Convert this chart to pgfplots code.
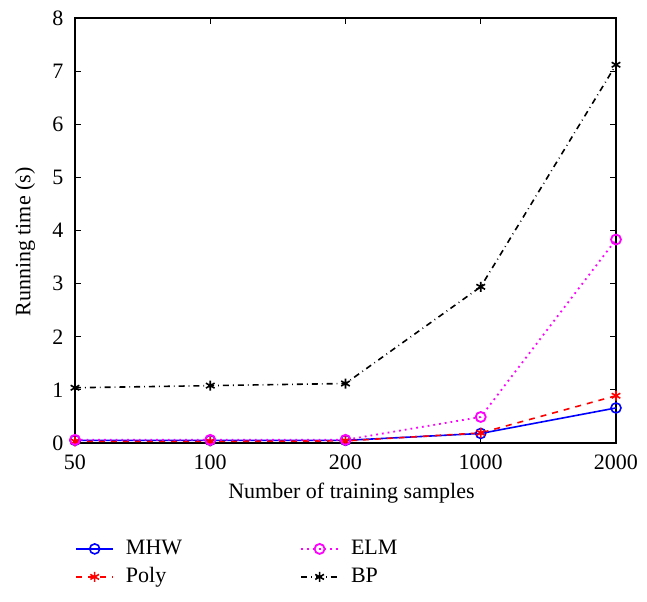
\documentclass[border=0pt]{standalone}
\usepackage{fontspec}
\setmainfont{Liberation Serif}
\usepackage{pgfplots}
\pgfplotsset{compat=1.18}
\definecolor{mag}{rgb}{1,0,1}
\definecolor{blu}{rgb}{0,0,1}
\definecolor{rd}{rgb}{1,0,0}
\begin{document}
\fontsize{11}{13}\selectfont
\begin{tikzpicture}
\begin{axis}[
  name=ax,
  scale only axis,
  width=270.5pt, height=212.5pt,
  xmin=0, xmax=4, ymin=0, ymax=8,
  xtick={0,1,2,3,4},
  xticklabels={50,100,200,1000,2000},
  ytick={0,1,...,8},
  /pgf/number format/assume math mode=true,
  tick align=inside,
  major tick length=3pt,
  axis line style={line width=0.8pt},
  every tick/.style={black, line width=0.6pt},
  xlabel={Number of training samples},
  ylabel={Running time (s)},
  tick label style={font=\fontsize{11}{13}\selectfont},
  label style={font=\fontsize{11}{13}\selectfont},
  xticklabel style={yshift=-2pt},
  yticklabel style={xshift=-2pt},
  xlabel style={at={(axis description cs:0.511,-0.119)}, anchor=center},
  ylabel style={at={(axis description cs:-0.0924,0.473)}, anchor=center},
  clip=false,
  legend columns=2,
  transpose legend,
  legend style={draw=none, fill=none, inner sep=0pt,
    at={(axis description cs:0,-0.2153)}, anchor=north west,
    font=\fontsize{11}{13}\selectfont,
    nodes={text height=8pt, text depth=2.5pt, inner ysep=1.75pt},
    /tikz/every odd column/.append style={column sep=4pt},
    /tikz/every even column/.append style={column sep=57pt},
    row sep=0pt},
  legend image code/.code={
    \draw[mark repeat=2,mark phase=2] plot coordinates {(0pt,0pt) (9.25pt,0pt) (18.5pt,0pt)};},
  legend cell align=left,
]
\addplot[blu, solid, line width=0.8pt, mark=o, mark size=2.5pt, mark options={solid}] coordinates {(0,0.05) (1,0.05) (2,0.05) (3,0.18) (4,0.66)};
\addlegendentry{MHW}
\addplot[rd, dashed, line width=0.8pt, mark=asterisk, mark size=2.5pt, mark options={solid}] coordinates {(0,0.03) (1,0.03) (2,0.04) (3,0.19) (4,0.89)};
\addlegendentry{Poly}
\addplot[mag, dotted, line width=0.9pt, mark=o, mark size=2.5pt, mark options={solid}] coordinates {(0,0.06) (1,0.06) (2,0.06) (3,0.49) (4,3.83)};
\addlegendentry{ELM}
\addplot[black, dash dot, line width=0.8pt, mark=asterisk, mark size=2.5pt, mark options={solid}] coordinates {(0,1.04) (1,1.08) (2,1.12) (3,2.94) (4,7.12)};
\addlegendentry{BP}
\end{axis}
\pgfresetboundingbox
\path[use as bounding box] ([shift={(-37.5pt,-79pt)}]ax.south west) rectangle ([shift={(286pt,221.5pt)}]ax.south west);
\end{tikzpicture}
\end{document}
